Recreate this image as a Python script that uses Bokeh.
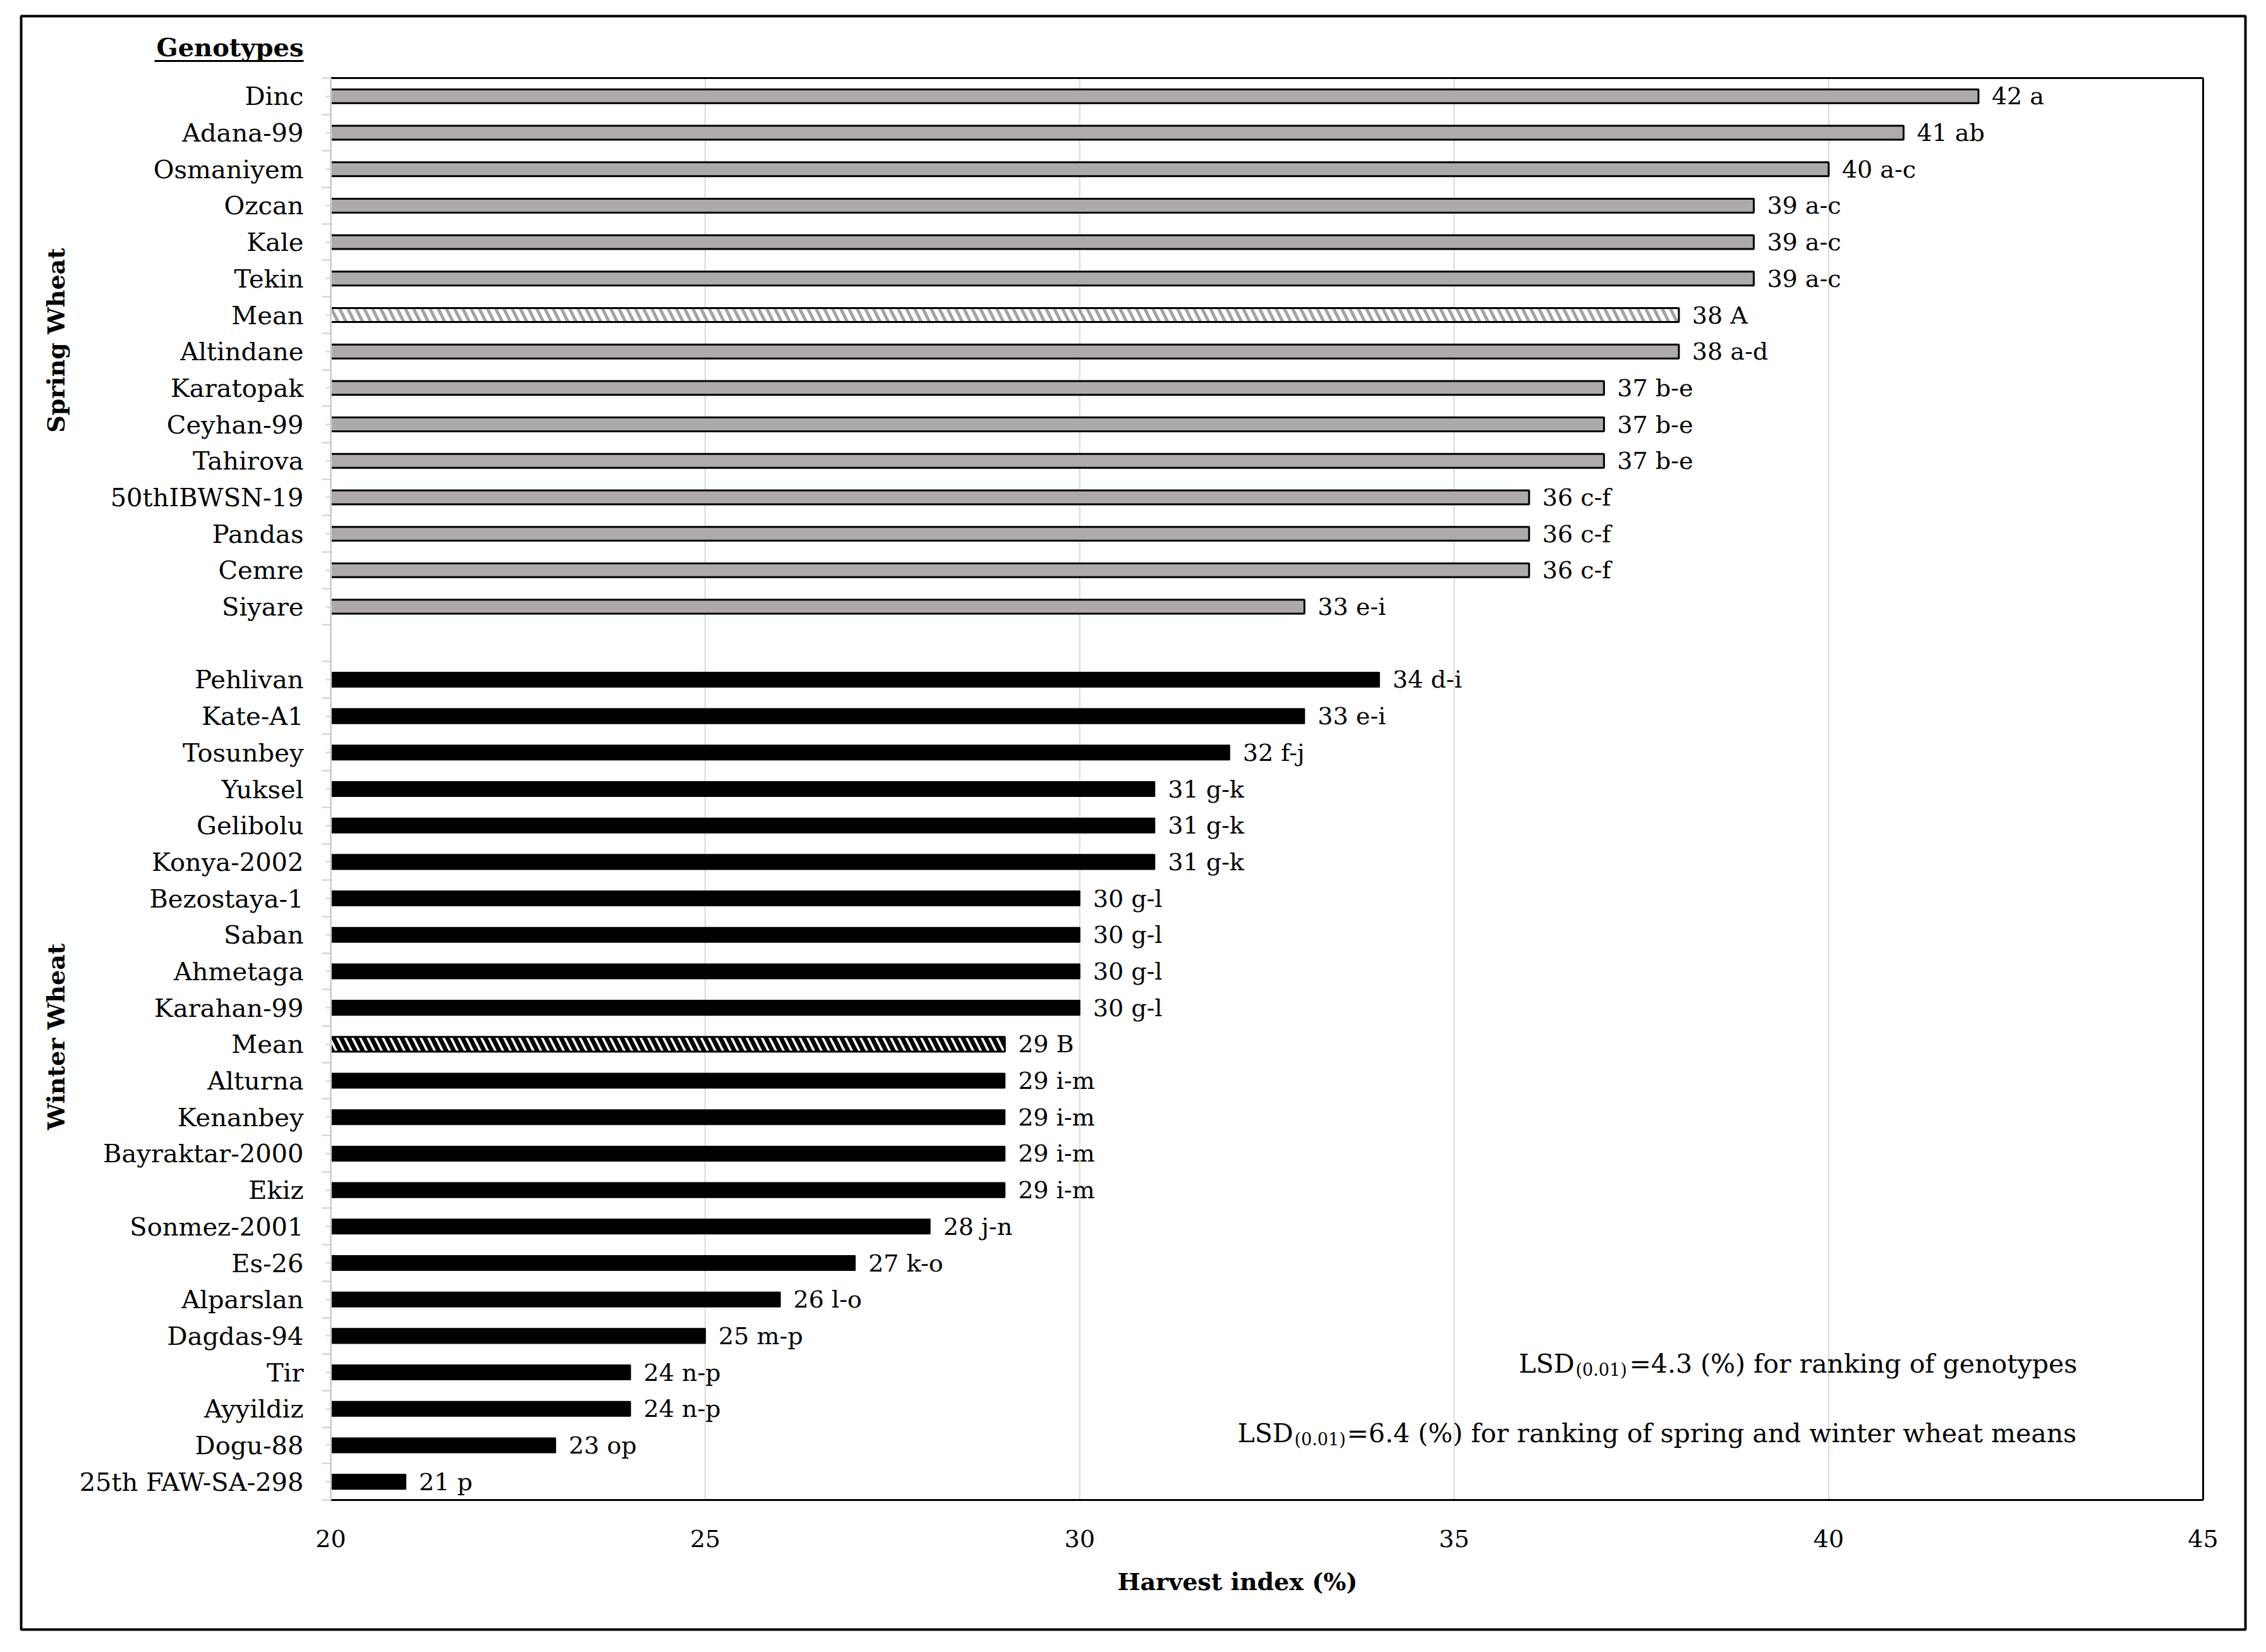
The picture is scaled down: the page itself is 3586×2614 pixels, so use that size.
from math import pi
from bokeh.plotting import figure
from bokeh.models import (ColumnDataSource, Range1d, FixedTicker, LinearAxis, Label, Arrow)
from bokeh.core.properties import value
from bokeh.embed import file_html
from bokeh.resources import INLINE

# ---------------- data ----------------
spring_names = ["Dinc", "Adana-99", "Osmaniyem", "Ozcan", "Kale", "Tekin", "Mean",
                "Altindane", "Karatopak", "Ceyhan-99", "Tahirova", "50thIBWSN-19",
                "Pandas", "Cemre", "Siyare"]
spring_values = [42, 41, 40, 39, 39, 39, 38, 38, 37, 37, 37, 36, 36, 36, 33]
spring_letters = ["a", "ab", "a-c", "a-c", "a-c", "a-c", "A", "a-d", "b-e", "b-e",
                  "b-e", "c-f", "c-f", "c-f", "e-i"]

winter_names = ["Pehlivan", "Kate-A1", "Tosunbey", "Yuksel", "Gelibolu", "Konya-2002",
                "Bezostaya-1", "Saban", "Ahmetaga", "Karahan-99", "Mean", "Alturna",
                "Kenanbey", "Bayraktar-2000", "Ekiz", "Sonmez-2001", "Es-26",
                "Alparslan", "Dagdas-94", "Tir", "Ayyildiz", "Dogu-88", "25th FAW-SA-298"]
winter_values = [34, 33, 32, 31, 31, 31, 30, 30, 30, 30, 29, 29, 29, 29, 29, 28, 27,
                 26, 25, 24, 24, 23, 21]
winter_letters = ["d-i", "e-i", "f-j", "g-k", "g-k", "g-k", "g-l", "g-l", "g-l", "g-l",
                  "B", "i-m", "i-m", "i-m", "i-m", "j-n", "k-o", "l-o", "m-p", "n-p",
                  "n-p", "op", "p"]

group_titles = ["Spring Wheat", "Winter Wheat"]
header = "Genotypes"
x_ticks = [20, 25, 30, 35, 40, 45]
x_title = "Harvest index (%)"
lsd1 = ["LSD", "(0.01)", "=4.3 (%) for ranking of genotypes"]
lsd2 = ["LSD", "(0.01)", "=6.4 (%) for ranking of spring and winter wheat means"]

# ---------------- row positions ----------------
n_spring = len(spring_names)
spring_y = list(range(n_spring))
winter_y = [n_spring + 1 + i for i in range(len(winter_names))]
n_rows = n_spring + 1 + len(winter_names)
y_top, y_bot = -0.5, n_rows - 0.5

def make_src(names, vals, lets, ys, want_mean):
    d = dict(y=[], v=[], lbl=[])
    for nm, v, l, y in zip(names, vals, lets, ys):
        if (nm == "Mean") == want_mean:
            d["y"].append(y); d["v"].append(v); d["lbl"].append(f"{v} {l}")
    return ColumnDataSource(d)

sp_src = make_src(spring_names, spring_values, spring_letters, spring_y, False)
spm_src = make_src(spring_names, spring_values, spring_letters, spring_y, True)
wi_src = make_src(winter_names, winter_values, winter_letters, winter_y, False)
wim_src = make_src(winter_names, winter_values, winter_letters, winter_y, True)

FONT = "DejaVu Serif"
W, H = 3570, 2598
PL, PR, PT, PB = 523, 3486, 123, 2373   # inner plot area (px)
OL, OR, OT, OB = 33, 3553, 25, 2578     # outer border = bokeh frame (px)

px_x = (PR - PL) / (x_ticks[-1] - x_ticks[0])
px_y = (PB - PT) / n_rows
def dx(px):  # page px -> data x
    return x_ticks[0] + (px - PL) / px_x
def dy(py):  # page px -> data y
    return y_top + (py - PT) / px_y

p = figure(width=W, height=H, output_backend="svg", toolbar_location=None,
           x_range=Range1d(dx(OL), dx(OR)),
           y_range=Range1d(dy(OB), dy(OT)),
           min_border_left=OL, min_border_right=W - OR, min_border_top=OT,
           min_border_bottom=H - OB)
p.background_fill_color = "white"
p.border_fill_color = "white"
p.outline_line_color = "black"
p.outline_line_width = 4
p.xgrid.visible = False
p.ygrid.visible = False

# vertical grid lines inside the plot area
p.segment(x0=x_ticks, y0=[y_top] * len(x_ticks), x1=x_ticks, y1=[y_bot] * len(x_ticks),
          line_color="#D9D9D9", line_width=2)

# bottom axis
xa = p.xaxis[0]
xa.fixed_location = y_bot
xa.bounds = (x_ticks[0], x_ticks[-1])
xa.ticker = FixedTicker(ticks=x_ticks)
xa.axis_line_color = "black"
xa.axis_line_width = 3
xa.major_tick_line_color = None
xa.minor_tick_line_color = None
xa.major_tick_out = 0
xa.minor_tick_out = 0
xa.major_label_standoff = 47
xa.major_label_text_font = FONT
xa.major_label_text_font_size = "38px"
xa.major_label_text_color = "black"

# left axis with category labels
ya = p.yaxis[0]
ya.fixed_location = x_ticks[0]
ya.bounds = (y_top, y_bot)
centers = spring_y + winter_y
bounds = [i - 0.5 for i in range(n_rows + 1)]
ya.ticker = FixedTicker(ticks=centers, minor_ticks=bounds)
ya.major_label_overrides = {y: nm for y, nm in zip(centers, spring_names + winter_names)}
ya.axis_line_color = "#D0D0D0"
ya.axis_line_width = 3
ya.major_tick_line_color = "#D0D0D0"
ya.major_tick_line_width = 2
ya.major_tick_out = 8
ya.major_tick_in = 0
ya.minor_tick_line_color = "#D0D0D0"
ya.minor_tick_line_width = 2
ya.minor_tick_out = 14
ya.minor_tick_in = 0
ya.major_label_standoff = 29
ya.major_label_text_font = FONT
ya.major_label_text_font_size = "40px"
ya.major_label_text_color = "black"

# top and right plot-area lines
def edge_axis(side, loc, bnds):
    ax = LinearAxis(fixed_location=loc, bounds=bnds, ticker=FixedTicker(ticks=[]),
                    axis_line_color="black", axis_line_width=3,
                    major_tick_line_color=None, minor_tick_line_color=None,
                    major_label_text_font_size="0px")
    p.add_layout(ax, side)

edge_axis("above", y_top, (x_ticks[0], x_ticks[-1]))
edge_axis("right", x_ticks[-1], (y_top, y_bot))

# ---------------- bars ----------------
BH_S, BH_W = 0.38, 0.40
p.hbar(y="y", left=x_ticks[0], right="v", height=BH_S, source=sp_src,
       fill_color="#AEAAAA", line_color="black", line_width=3)
p.hbar(y="y", left=x_ticks[0], right="v", height=BH_S, source=spm_src,
       fill_color="white", line_color="black", line_width=3,
       hatch_pattern="left_diagonal_line", hatch_color="#A6A2A2", hatch_scale=26, hatch_weight=5)
p.hbar(y="y", left=x_ticks[0], right="v", height=BH_W, source=wi_src,
       fill_color="black", line_color="black", line_width=2)
p.hbar(y="y", left=x_ticks[0], right="v", height=BH_W, source=wim_src,
       fill_color="white", line_color="black", line_width=3,
       hatch_pattern="left_diagonal_line", hatch_color="black", hatch_scale=24, hatch_weight=7)

for src in (sp_src, spm_src, wi_src, wim_src):
    p.text(x="v", y="y", text="lbl", source=src, x_offset=21,
           text_font=value(FONT), text_font_size=value("38px"),
           text_baseline="middle", text_align="left", text_color="black")

# ---------------- texts outside the plot area ----------------
p.add_layout(Label(x=dx(480), y=dy(74), text=header, text_align="right",
                   text_baseline="middle", text_font=FONT, text_font_style="bold",
                   text_font_size="40px", text_color="black"))
p.add_layout(Arrow(end=None, x_start=dx(244), y_start=dy(96), x_end=dx(480), y_end=dy(96),
                   line_color="black", line_width=3))

for t, yc in zip(group_titles, [538, 1640]):
    p.add_layout(Label(x=dx(88), y=dy(yc), text=t, angle=pi / 2, text_align="center",
                       text_baseline="middle", text_font=FONT, text_font_style="bold",
                       text_font_size="38px", text_color="black"))

p.add_layout(Label(x=dx(1768), y=dy(2502), text=x_title, text_align="left",
                   text_baseline="middle", text_font=FONT, text_font_style="bold",
                   text_font_size="38px", text_color="black"))

# ---------------- LSD notes ----------------
def lsd(parts, xs, yb, ysub):
    sizes = ["41px", "27px", "41px"]
    ys = [yb, ysub, yb]
    for t, x, y, s in zip(parts, xs, ys, sizes):
        p.add_layout(Label(x=x, y=y, text=t, text_align="left", text_baseline="alphabetic",
                           text_font=FONT, text_font_size=s, text_color="black"))

lsd(lsd1, [dx(2403), dx(2493), dx(2578)], 34.77, 34.93)
lsd(lsd2, [dx(1958), dx(2048), dx(2131)], 36.67, 36.83)

open("out.html", "w").write(file_html(p, INLINE))
